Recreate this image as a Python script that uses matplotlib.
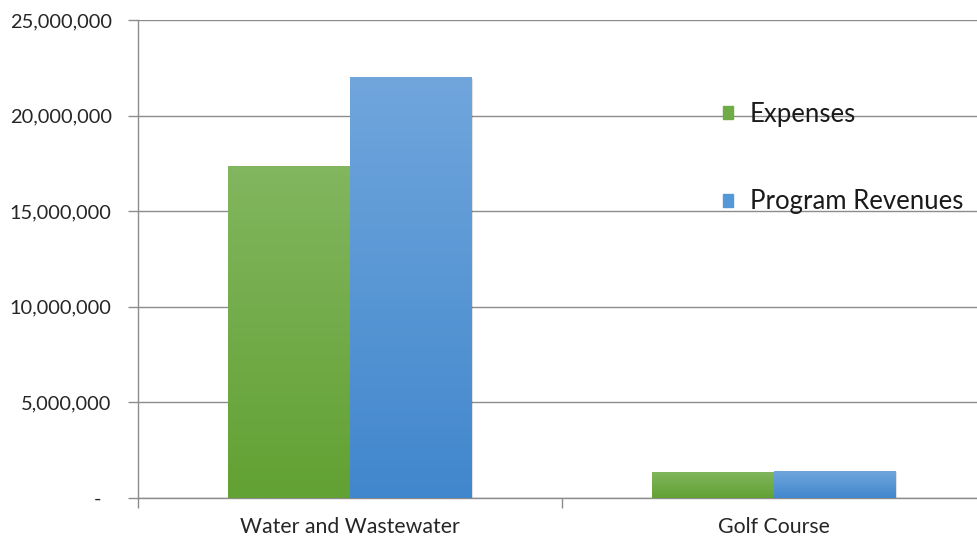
import numpy as np
import matplotlib.pyplot as plt
from matplotlib.patches import Patch

categories = ['Water and Wastewater', 'Golf Course']
expenses = [17360000, 1360000]
revenues = [22000000, 1410000]
yticks = [0, 5000000, 10000000, 15000000, 20000000, 25000000]

plt.rcParams['font.family'] = ['Lato', 'DejaVu Sans']

fig = plt.figure(figsize=(9.77, 5.38), dpi=100)
ax = fig.add_axes([138 / 977, 40 / 538, 848 / 977, 478 / 538])

x = np.arange(len(categories))
w = 0.287
grid_c = '#8c8c8c'

bars_e = ax.bar(x - w / 2, expenses, w, color='#6fab46', zorder=3)
bars_r = ax.bar(x + w / 2, revenues, w, color='#5598d8', zorder=3)

# vertical gradient inside each bar, plus a soft shadow
def shade(bars, top, bottom):
    grad = np.linspace(0, 1, 256).reshape(-1, 1)
    c0 = np.array(plt.matplotlib.colors.to_rgb(top))
    c1 = np.array(plt.matplotlib.colors.to_rgb(bottom))
    img = c0 + (c1 - c0) * grad[:, :, None]
    for b in bars:
        x0, y0 = b.get_x(), b.get_y()
        bw, bh = b.get_width(), b.get_height()
        sh = plt.Rectangle((x0 + 0.004, y0), bw, bh - 60000, color='#000000',
                           alpha=0.12, zorder=2, lw=0)
        ax.add_patch(sh)
        im = ax.imshow(img, extent=[x0, x0 + bw, y0, y0 + bh], aspect='auto',
                       origin='upper', zorder=4)
        im.set_clip_path(b)

shade(bars_e, '#82b65f', '#62a133')
shade(bars_r, '#70a6dc', '#4187cd')

ax.set_xlim(-0.5, 1.5)
ax.set_ylim(0, 25000000)
ax.set_yticks(yticks)
ax.set_yticklabels(['-  '] + [f'{v:,}' for v in yticks[1:]])
ax.yaxis.grid(True, color=grid_c, lw=1, zorder=0)
ax.set_axisbelow(True)

ax.set_xticks([-0.5, 0.5, 1.5])
ax.set_xticklabels([])
ax.set_xticks(x, minor=True)
ax.set_xticklabels(categories, minor=True)
ax.tick_params(axis='x', which='major', length=7, color=grid_c, width=1)
ax.tick_params(axis='x', which='minor', length=0, pad=14, labelsize=15.3, labelcolor='#262626')
ax.tick_params(axis='y', length=7, color=grid_c, width=1, pad=12, labelsize=14.4, labelcolor='#262626')

for s in ['top', 'right']:
    ax.spines[s].set_visible(False)
for s in ['left', 'bottom']:
    ax.spines[s].set_color(grid_c)
    ax.spines[s].set_linewidth(1)

handles = [Patch(facecolor='#6fab46', edgecolor='#6fab46'),
           Patch(facecolor='#5598d8', edgecolor='#5598d8')]
fig.legend(handles, ['Expenses', 'Program Revenues'], loc='upper left',
           bbox_to_anchor=(700 / 977, 1 - 79 / 538), frameon=False,
           fontsize=18.5, handlelength=0.4, handleheight=0.4,
           handletextpad=0.65, labelspacing=2.42, labelcolor='#1a1a1a')

fig.savefig('out.png', dpi=100)
